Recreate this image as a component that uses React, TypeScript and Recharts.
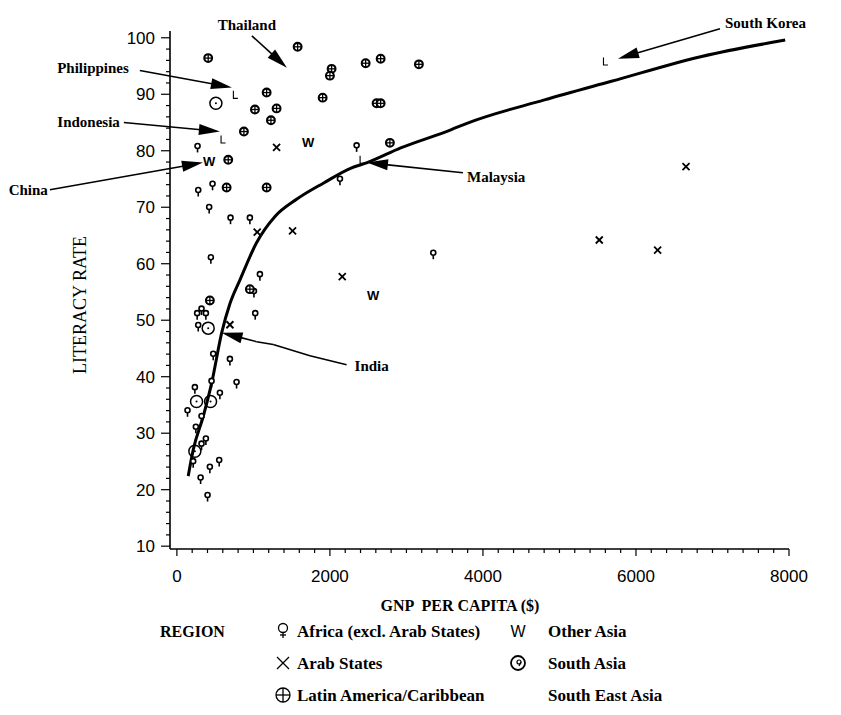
import React from 'react';
import { ComposedChart, Scatter, Line, XAxis, YAxis, ReferenceLine, Customized } from 'recharts';

// ---------------- data ----------------
const africaX = [270, 2349, 2131, 279, 466, 422, 701, 954, 444, 1085, 1007, 3351, 322, 265, 379, 279, 1024, 475, 693, 780, 235, 453, 562, 139, 322, 248, 379, 322, 213, 431, 553, 310, 401];
const africaY = [80.5, 80.6, 74.7, 72.7, 73.8, 69.7, 67.8, 67.8, 60.8, 57.8, 54.8, 61.6, 51.7, 50.9, 50.9, 48.8, 50.9, 43.7, 42.8, 38.7, 37.8, 38.9, 36.8, 33.7, 32.7, 30.8, 28.7, 27.8, 24.7, 23.7, 24.9, 21.8, 18.7];

const arabX = [1303, 1050, 1512, 2161, 693, 6654, 5520, 6283];
const arabY = [80.6, 65.6, 65.8, 57.7, 49.2, 77.2, 64.2, 62.4];

const latinX = [409, 1578, 2022, 2000, 2467, 2663, 3163, 1173, 1905, 1020, 1303, 1229, 2610, 2663, 876, 2784, 671, 650, 1173, 431, 954];
const latinY = [96.4, 98.4, 94.5, 93.3, 95.5, 96.3, 95.3, 90.3, 89.4, 87.3, 87.5, 85.4, 88.4, 88.4, 83.4, 81.4, 78.4, 73.5, 73.5, 53.5, 55.5];

const otherAsiaX = [1717, 422, 2566];
const otherAsiaY = [81.5, 78.2, 54.5];

const southAsiaX = [510, 409, 257, 440, 235];
const southAsiaY = [88.4, 48.6, 35.6, 35.6, 26.8];

const seAsiaX = [758, 597, 2414, 5595];
const seAsiaY = [89.9, 82.0, 78.4, 95.8];

const trendX = [148, 214, 345, 455, 586, 695, 826, 1041, 1285, 1564, 1919, 2269, 2488, 2925, 3580, 3799, 4804, 5679, 6859, 7950];
const trendY = [22.4, 27.1, 33.0, 38.9, 47.8, 53.0, 57.2, 63.7, 68.4, 71.4, 74.3, 76.9, 77.9, 80.5, 83.7, 84.9, 89.0, 92.3, 96.7, 99.6];

const xMajorTicks = [0, 2000, 4000, 6000, 8000];
const yMajorTicks = [10, 20, 30, 40, 50, 60, 70, 80, 90, 100];

const annotationNames = ['Thailand', 'South Korea', 'Philippines', 'Indonesia', 'China', 'Malaysia', 'India'];
const annotationPaths: number[][][] = [
  [[980, 100.35], [1438, 94.7]],
  [[7098, 101.6], [5765, 96.3]],
  [[-484, 94.2], [719, 91.2]],
  [[-693, 85.0], [562, 83.4]],
  [[-1660, 73.1], [340, 77.9]],
  [[3739, 76.1], [2484, 77.9]],
  [[2218, 42.1], [1739, 43.7], [1259, 45.7], [1042, 46.2], [584, 47.8]],
];

const legendRows = [
  ['Africa (excl. Arab States)', 'Other Asia'],
  ['Arab States', 'South Asia'],
  ['Latin America/Caribbean', 'South East Asia'],
];

// ---------------- helpers ----------------
const pts = (xs: number[], ys: number[]) => xs.map((x, i) => ({ x, y: ys[i] }));
const africa = pts(africaX, africaY);
const arab = pts(arabX, arabY);
const latin = pts(latinX, latinY);
const otherAsia = pts(otherAsiaX, otherAsiaY);
const southAsia = pts(southAsiaX, southAsiaY);
const seAsia = pts(seAsiaX, seAsiaY);
const trend = pts(trendX, trendY);

const xTicks: number[] = [];
for (let v = 0; v <= 8000; v += 200) xTicks.push(v);
const yTicks: number[] = [];
for (let v = 10; v <= 100; v += 2) yTicks.push(v);

const SANS = "'Liberation Sans', Arial, Helvetica, sans-serif";
const SERIF = "'Liberation Serif', 'Times New Roman', Times, serif";
const K = '#000';

// ---------------- symbols ----------------
const AfricaShape = (p: any) => {
  const { cx, cy } = p;
  if (cx == null || cy == null) return <g />;
  return (
    <g>
      <circle cx={cx} cy={cy - 2} r={2.5} fill="#fff" stroke={K} strokeWidth={1.6} />
      <line x1={cx} y1={cy + 0.5} x2={cx} y2={cy + 4.5} stroke={K} strokeWidth={1.6} />
    </g>
  );
};
const ArabShape = (p: any) => {
  const { cx, cy } = p;
  if (cx == null || cy == null) return <g />;
  const d = 3.5;
  return (
    <g stroke={K} strokeWidth={1.8}>
      <line x1={cx - d} y1={cy - d} x2={cx + d} y2={cy + d} />
      <line x1={cx - d} y1={cy + d} x2={cx + d} y2={cy - d} />
    </g>
  );
};
const LatinShape = (p: any) => {
  const { cx, cy } = p;
  if (cx == null || cy == null) return <g />;
  return (
    <g>
      <circle cx={cx} cy={cy} r={3.9} fill="#fff" stroke={K} strokeWidth={2.1} />
      <line x1={cx} y1={cy - 3.6} x2={cx} y2={cy + 3.6} stroke={K} strokeWidth={1.3} />
      <line x1={cx - 3.6} y1={cy} x2={cx + 3.6} y2={cy} stroke={K} strokeWidth={1.3} />
    </g>
  );
};
const OtherAsiaShape = (p: any) => {
  const { cx, cy } = p;
  if (cx == null || cy == null) return <g />;
  return (
    <text x={cx} y={cy + 5} textAnchor="middle" fontFamily={SANS} fontWeight="bold" fontSize={13} fill={K}>W</text>
  );
};
const SouthAsiaShape = (p: any) => {
  const { cx, cy } = p;
  if (cx == null || cy == null) return <g />;
  return (
    <g>
      <circle cx={cx} cy={cy} r={6} fill="none" stroke={K} strokeWidth={1.5} />
      <circle cx={cx} cy={cy} r={1} fill={K} />
    </g>
  );
};
const SEAsiaShape = (p: any) => {
  const { cx, cy } = p;
  if (cx == null || cy == null) return <g />;
  return (
    <path d={`M${cx - 1.5},${cy - 4} V${cy + 3.5} H${cx + 3}`} fill="none" stroke={K} strokeWidth={1.1} />
  );
};

// ---------------- ticks ----------------
const YTick = (p: any) => {
  const { x, y, payload } = p;
  const v = payload.value;
  const major = yMajorTicks.includes(v);
  return (
    <g>
      <line x1={x - (major ? 9 : 4)} x2={x} y1={y} y2={y} stroke={K} strokeWidth={1.2} />
      {major && (
        <text x={x - 15} y={y + 6} textAnchor="end" fontFamily={SANS} fontSize={17} fill={K}>{v}</text>
      )}
    </g>
  );
};
const XTick = (p: any) => {
  const { x, y, payload } = p;
  const v = payload.value;
  const major = xMajorTicks.includes(v);
  return (
    <g>
      <line x1={x} x2={x} y1={y} y2={y + (major ? 7 : 4)} stroke={K} strokeWidth={1.2} />
      {major && (
        <text x={x} y={y + 33} textAnchor="middle" fontFamily={SANS} fontSize={17} fill={K}>{v}</text>
      )}
    </g>
  );
};

// ---------------- annotations ----------------
const labelStyles: Record<string, { dx: number; dy: number; anchor: string }> = {
  Thailand: { dx: -5, dy: -6, anchor: 'middle' },
  'South Korea': { dx: 5, dy: -1, anchor: 'start' },
  Philippines: { dx: -11, dy: 2, anchor: 'end' },
  Indonesia: { dx: -4, dy: 4, anchor: 'end' },
  China: { dx: -2, dy: 5, anchor: 'end' },
  Malaysia: { dx: 4, dy: 9, anchor: 'start' },
  India: { dx: 8, dy: 6, anchor: 'start' },
};

const makeArrowShape = (head: boolean, label?: string) => (p: any) => {
  const { x1, y1, x2, y2 } = p;
  if ([x1, y1, x2, y2].some((v) => v == null || Number.isNaN(v))) return <g />;
  const ang = Math.atan2(y2 - y1, x2 - x1);
  const L = 21;
  const W = 5.5;
  const bx = x2 - L * Math.cos(ang);
  const by = y2 - L * Math.sin(ang);
  const px = -Math.sin(ang) * W;
  const py = Math.cos(ang) * W;
  const st = label ? labelStyles[label] : null;
  return (
    <g>
      <line x1={x1} y1={y1} x2={head ? bx + 2 * Math.cos(ang) : x2} y2={head ? by + 2 * Math.sin(ang) : y2} stroke={K} strokeWidth={1.6} />
      {head && <polygon points={`${x2},${y2} ${bx + px},${by + py} ${bx - px},${by - py}`} fill={K} />}
      {label && st && (
        <text x={x1 + st.dx} y={y1 + st.dy} textAnchor={st.anchor as any} fontFamily={SERIF} fontWeight="bold" fontSize={15} fill={K}>
          {label}
        </text>
      )}
    </g>
  );
};

const annotationLines: React.ReactElement[] = [];
annotationPaths.forEach((path, ai) => {
  for (let i = 0; i < path.length - 1; i++) {
    const isLast = i === path.length - 2;
    annotationLines.push(
      <ReferenceLine
        key={`a${ai}-${i}`}
        segment={[{ x: path[i][0], y: path[i][1] }, { x: path[i + 1][0], y: path[i + 1][1] }]}
        ifOverflow="visible"
        shape={makeArrowShape(isLast, i === 0 ? annotationNames[ai] : undefined)}
      />
    );
  }
});

// ---------------- static texts and legend ----------------
const legendIcon = (name: string, x: number, y: number) => {
  switch (name) {
    case 'Africa (excl. Arab States)':
      return (
        <g>
          <circle cx={x} cy={y - 3} r={4.5} fill="none" stroke={K} strokeWidth={1.3} />
          <line x1={x} y1={y + 1.5} x2={x} y2={y + 7} stroke={K} strokeWidth={1.3} />
          <line x1={x - 3} y1={y + 4} x2={x + 3} y2={y + 4} stroke={K} strokeWidth={1.3} />
        </g>
      );
    case 'Arab States':
      return (
        <g stroke={K} strokeWidth={1.3}>
          <line x1={x - 6} y1={y - 6} x2={x + 6} y2={y + 6} />
          <line x1={x - 6} y1={y + 6} x2={x + 6} y2={y - 6} />
        </g>
      );
    case 'Latin America/Caribbean':
      return (
        <g stroke={K} strokeWidth={1.3} fill="none">
          <circle cx={x} cy={y} r={7} />
          <line x1={x - 7} y1={y} x2={x + 7} y2={y} />
          <line x1={x} y1={y - 7} x2={x} y2={y + 7} />
        </g>
      );
    case 'Other Asia':
      return (
        <text x={x} y={y + 6} textAnchor="middle" fontFamily={SANS} fontSize={16} fill={K}>W</text>
      );
    case 'South Asia':
      return (
        <g stroke={K} fill="none">
          <circle cx={x} cy={y} r={7} strokeWidth={1.8} />
          <circle cx={x + 1} cy={y - 1} r={2} strokeWidth={1.2} />
          <line x1={x + 3} y1={y - 1} x2={x + 1} y2={y + 3} strokeWidth={1.2} />
        </g>
      );
    default:
      return null;
  }
};

const StaticLayer = () => (
  <g>
    <text
      transform="translate(86,305) rotate(-90)"
      textAnchor="middle"
      fontFamily={SERIF}
      fontSize={18}
      fill={K}
    >
      LITERACY RATE
    </text>
    <text x={460} y={611} textAnchor="middle" fontFamily={SERIF} fontWeight="bold" fontSize={16} fill={K} xmlSpace="preserve">
      GNP  PER CAPITA ($)
    </text>
    <text x={160} y={637} fontFamily={SERIF} fontWeight="bold" fontSize={16} fill={K}>REGION</text>
    {legendRows.map((row, ri) => {
      const cy = 631 + ri * 32;
      return (
        <g key={ri}>
          {legendIcon(row[0], 283, cy)}
          <text x={297} y={cy + 6} fontFamily={SERIF} fontWeight="bold" fontSize={17} fill={K}>{row[0]}</text>
          {legendIcon(row[1], 518, cy)}
          <text x={548} y={cy + 6} fontFamily={SERIF} fontWeight="bold" fontSize={17} fill={K}>{row[1]}</text>
        </g>
      );
    })}
  </g>
);

export default function App() {
  return (
    <div style={{ position: 'absolute', left: 0, top: 0, width: 841, height: 715, background: '#fff' }}>
      <ComposedChart width={841} height={715} margin={{ top: 31, right: 52, bottom: 116, left: 0 }}>
        <XAxis
          type="number"
          dataKey="x"
          domain={[-90, 8000]}
          allowDataOverflow
          ticks={xTicks}
          interval={0}
          tickSize={0}
          tickMargin={0}
          tickLine={false}
          tick={<XTick />}
          height={50}
          axisLine={{ stroke: K, strokeWidth: 1.3 }}
        />
        <YAxis
          type="number"
          dataKey="y"
          domain={[9.5, 101.2]}
          allowDataOverflow
          ticks={yTicks}
          interval={0}
          tickSize={0}
          tickMargin={0}
          tickLine={false}
          tick={<YTick />}
          width={170}
          axisLine={{ stroke: K, strokeWidth: 1.6 }}
        />
        <Line data={trend} dataKey="y" type="monotone" stroke={K} strokeWidth={3} dot={false} isAnimationActive={false} />
        <Scatter name="Africa" data={africa} shape={AfricaShape} isAnimationActive={false} />
        <Scatter name="Arab States" data={arab} shape={ArabShape} isAnimationActive={false} />
        <Scatter name="Latin America" data={latin} shape={LatinShape} isAnimationActive={false} />
        <Scatter name="Other Asia" data={otherAsia} shape={OtherAsiaShape} isAnimationActive={false} />
        <Scatter name="South Asia" data={southAsia} shape={SouthAsiaShape} isAnimationActive={false} />
        <Scatter name="South East Asia" data={seAsia} shape={SEAsiaShape} isAnimationActive={false} />
        {annotationLines}
        <Customized component={<StaticLayer />} />
      </ComposedChart>
    </div>
  );
}
